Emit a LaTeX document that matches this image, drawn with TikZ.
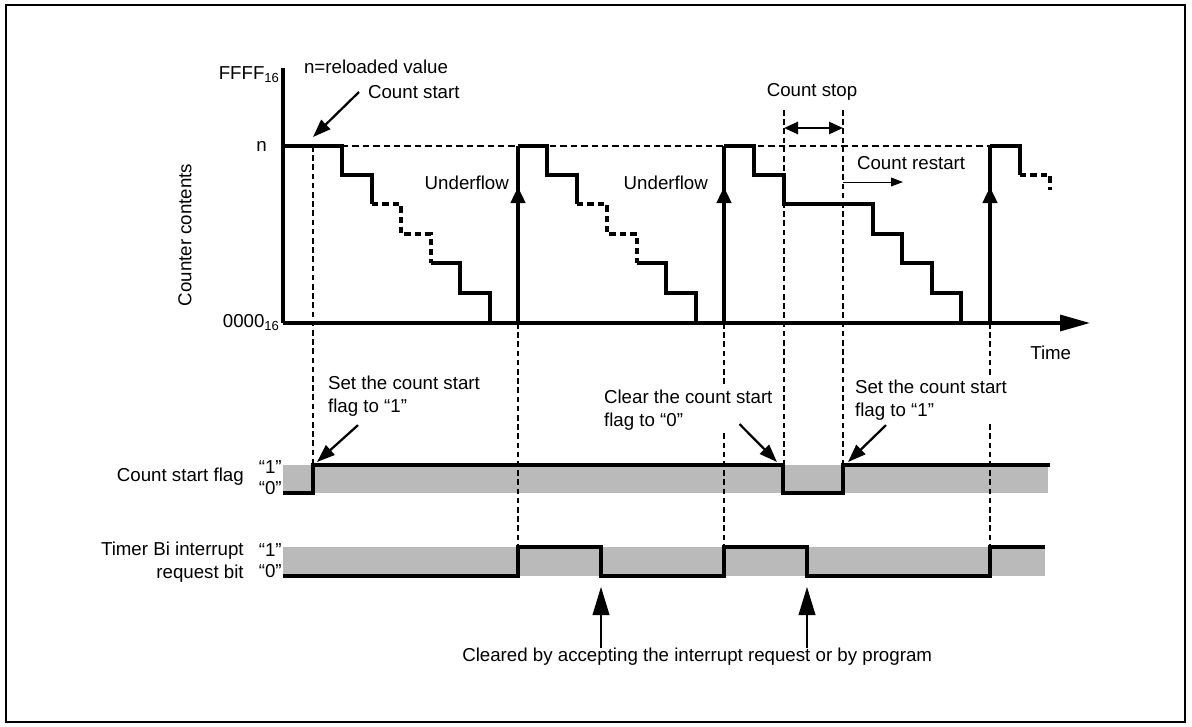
\documentclass[tikz,border=0pt]{standalone}
\usepackage{fontspec}
\setmainfont{Liberation Sans}
\usepackage{tikz}
\usetikzlibrary{arrows.meta}

\begin{document}
\begin{tikzpicture}[
  x=0.25mm, y=-0.25mm,
  txt/.style={font=\fontsize{13.3}{16}\selectfont, inner sep=0pt},
  note/.style={txt, fill=white, inner sep=2pt, align=left},
  sig/.style={line width=2.4pt, line join=miter},
  sigdash/.style={sig, dash pattern=on 1.6mm off 1mm},
  guide/.style={line width=1.4pt, dash pattern=on 1.4mm off 0.9mm},
  ptr/.style={-{Triangle[length=4.5mm,width=3.2mm]}, line width=1.6pt},
  tall/.style={-{Triangle[length=7mm,width=4.2mm]}, line width=0.9pt},
  shade/.style={fill=black!27, draw=none}
]
\useasboundingbox (0,0) rectangle (1192,726);
\draw[line width=1.8pt] (6,5) rectangle (1185,722);

% counter contents graph
\node[txt, anchor=east] (ffff) at (280,75) {FFFF\textsubscript{16}};
\node[txt, anchor=east] (nval) at (267,146) {n};
\node[txt, anchor=east] (zero) at (280,323) {0000\textsubscript{16}};
\node[txt, rotate=90] (ylabel) at (185,235) {Counter contents};
\draw[sigdash, line width=1.5pt] (342,146) -- (990,146);
\draw[sig] (283,68) -- (283,323);
\draw[sig, -{Triangle[length=7.5mm,width=4mm]}] (283,323) -- (1090,323);
\node[txt, anchor=west] (time) at (1030,353) {Time};

\draw[sig] (283,146) -- (342,146) -- (342,175) -- (372,175) -- (372,204);
\draw[sigdash] (372,204) -- (401,204) -- (401,234) -- (431,234) -- (431,263);
\draw[sig] (431,263) -- (460,263) -- (460,293) -- (490,293) -- (490,323);

\draw[sig] (518,146) -- (547,146) -- (547,175) -- (577,175) -- (577,204);
\draw[sigdash] (577,204) -- (607,204) -- (607,234) -- (637,234) -- (637,263);
\draw[sig] (637,263) -- (666,263) -- (666,293) -- (696,293) -- (696,323);

\draw[sig] (724,146) -- (754,146) -- (754,175) -- (784,175) -- (784,204)
  -- (873,204) -- (873,234) -- (902,234) -- (902,263) -- (932,263)
  -- (932,293) -- (961,293) -- (961,323);

\draw[sig] (990,146) -- (1020,146) -- (1020,175);
\draw[sigdash] (1020,175) -- (1050,175) -- (1050,190);

% underflow
\foreach \u in {518,724,990} {
  \draw[sig] (\u,323) -- (\u,146);
  \draw[sig, -{Triangle[length=4mm,width=3.6mm]}] (\u,323) -- (\u,187);
}

% flag rows
\draw[shade] (283,465) rectangle (1048,493);
\draw[shade] (283,547) rectangle (1045,576);
\draw[sig] (283,493) -- (313,493) -- (313,465) -- (783,465) -- (783,493)
  -- (843,493) -- (843,465) -- (1050,465);
\draw[sig] (283,576) -- (518,576) -- (518,547) -- (601,547) -- (601,576)
  -- (724,576) -- (724,547) -- (807,547) -- (807,576) -- (990,576)
  -- (990,547) -- (1045,547);

% dashed guides
\draw[guide] (313,146) -- (313,465);
\draw[guide] (518,323) -- (518,547);
\draw[guide] (724,323) -- (724,547);
\draw[guide] (784,110) -- (784,465);
\draw[guide] (843,110) -- (843,465);
\draw[guide] (990,323) -- (990,547);

\node[txt, anchor=east] (flag) at (244,477) {Count start flag};
\node[txt, anchor=east, align=right] (irq) at (244,562) {Timer Bi interrupt\\request bit};
\node[txt, anchor=east] (flag1) at (282,467) {“1”};
\node[txt, anchor=east] (flag0) at (282,488) {“0”};
\node[txt, anchor=east] (irq1l) at (282,550) {“1”};
\node[txt, anchor=east] (irq0l) at (282,571) {“0”};

% notes
\node[note, anchor=west] (reload) at (301,67) {n=reloaded value};
\node[note, anchor=west] (cstart) at (365,92) {Count start};
\node[note] (cstop) at (812,92) {Count stop};
\node[note, anchor=west] (crestart) at (854,163) {Count restart};
\node[note, anchor=east] (uf1) at (512,183) {Underflow};
\node[note, anchor=east] (uf2) at (711,183) {Underflow};
\node[note, anchor=north west] (set1) at (325,373) {Set the count start\\flag to “1”};
\node[note, anchor=north west] (clear) at (601,387) {Clear the count start\\flag to “0”};
\node[note, anchor=north west] (set2) at (852,377) {Set the count start\\flag to “1”};
\node[txt, anchor=west] (cleared) at (462,657) {Cleared by accepting the interrupt request or by program};

\coordinate (cs) at (313,137);
\coordinate (up1) at (317,462);
\coordinate (dn) at (777,462);
\coordinate (up2) at (848,462);
\coordinate (irqa) at (601,587);
\coordinate (irqb) at (807,587);

\draw[ptr] ([xshift=-1.5mm]cstart.west) -- (cs);
\draw[ptr] ([shift={(33,6)}]set1.south west) -- (up1);
\draw[ptr] ([shift={(-36,-9)}]clear.south east) -- (dn);
\draw[ptr] ([shift={(34,2)}]set2.south west) -- (up2);
\draw[{Triangle[length=3.5mm,width=3mm]}-{Triangle[length=3.5mm,width=3mm]}, line width=1.8pt]
  (784,128) -- (843,128);
\draw[-{Triangle[length=3mm,width=2.2mm]}, line width=0.6pt] (843,182) -- (903,182);
\draw[tall] (cleared.north -| irqa) -- (irqa);
\draw[tall] (cleared.north -| irqb) -- (irqb);
\end{tikzpicture}
\end{document}
